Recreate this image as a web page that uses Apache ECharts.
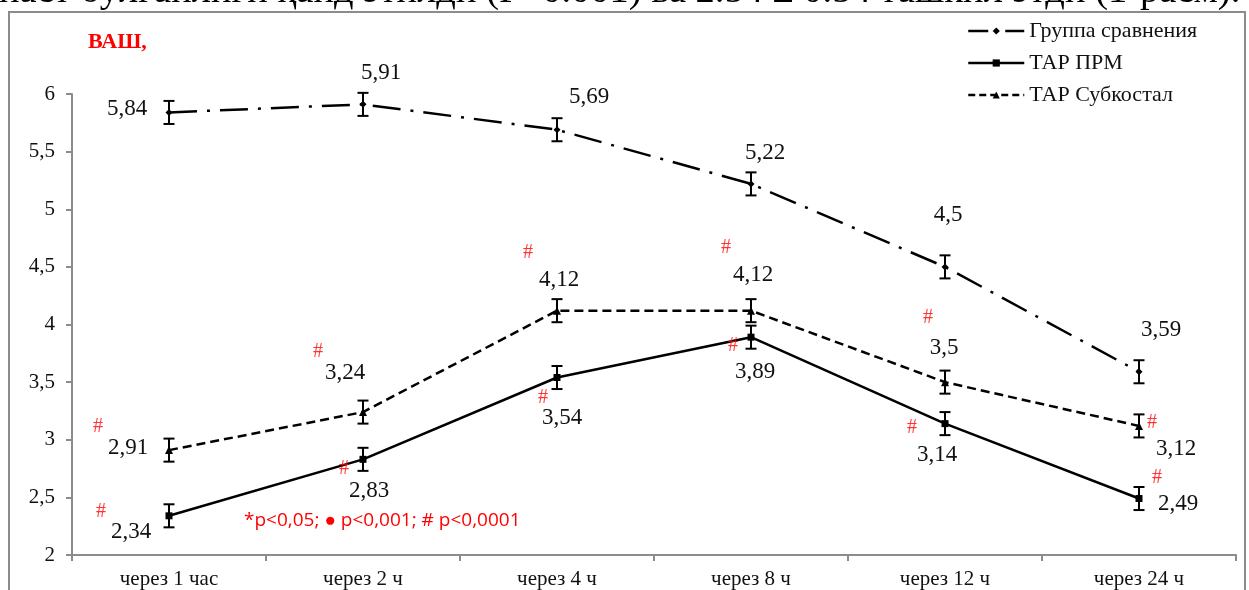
<!DOCTYPE html>
<html><head><meta charset="utf-8">
<script src="https://cdn.jsdelivr.net/npm/echarts@6/dist/echarts.min.js"></script>
<style>html,body{margin:0;padding:0;background:#fff}#c{width:1249px;height:590px}</style>
</head><body><div id="c"></div>
<script>
const categories = ['через 1 час','через 2 ч','через 4 ч','через 8 ч','через 12 ч','через 24 ч'];
const seriesNames = ['Группа сравнения','ТАР ПРМ','ТАР Субкостал'];
const groupVals = [5.84, 5.91, 5.69, 5.22, 4.5, 3.59];
const prmVals   = [2.34, 2.83, 3.54, 3.89, 3.14, 2.49];
const subVals   = [2.91, 3.24, 4.12, 4.12, 3.5, 3.12];
const groupErr = [0.1, 0.1, 0.1, 0.1, 0.1, 0.1];
const prmErr   = [0.1, 0.1, 0.1, 0.1, 0.1, 0.1];
const subErr   = [0.1, 0.1, 0.1, 0.1, 0.1, 0.1];
const prmHash = [true, true, true, true, true, true];
const subHash = [true, true, true, true, true, true];
const yTicks = [2, 2.5, 3, 3.5, 4, 4.5, 5, 5.5, 6];
const topText = 'паст бўлганлиги қайд этилди (Р<0.001) ва 2.54 ± 0.54 ташкил этди (1-расм).';
const noteText = '*p<0,05; ● p<0,001; # p<0,0001';

// label placement (pixel offsets from each point)
const groupLabelOff = [[-42,-3],[18,-31],[32,-33],[14,-31],[3,-52],[22,-42]];
const subLabelOff   = [[-41,-2],[-18,-39],[2,-31],[2,-36],[-1,-34],[37,23]];
const prmLabelOff   = [[-38,16],[6,32],[5,40],[4,35],[-8,31],[39,5]];
const subHashOff    = [[-71,-23],[-45,-60],[-29,-58],[-25,-63],[-17,-64],[13,-3]];
const prmHashOff    = [[-68,-4],[-19,9],[-14,20],[-18,9],[-33,4],[18,-21]];

const fmt = v => String(v).replace('.', ',');
const serif = 'Liberation Serif';

const dashDot = [28,10,3,10];
const dashed = [9,5];

function labeled(vals, offs){
  return vals.map((v,i)=>({value:v, label:{offset:offs[i]}}));
}
function lineSeries(name, vals, offs, type, symbol, size){
  return {
    name, type:'line', data: labeled(vals, offs), symbol, symbolSize:size,
    showSymbol:true, z:3,
    itemStyle:{color:'#000'},
    lineStyle:{color:'#000', width:2.5, type},
    label:{show:true, position:'inside', formatter:p=>fmt(p.value), color:'#111', fontFamily:serif, fontSize:23},
    emphasis:{disabled:true}, animation:false
  };
}
function hashSeries(vals, flags, offs){
  return {
    type:'scatter', symbolSize:1, itemStyle:{color:'rgba(0,0,0,0)'}, z:5,
    data: vals.map((v,i)=>flags[i]?{value:[i,v], label:{offset:offs[i]}}:null).filter(d=>d),
    label:{show:true, position:'inside', formatter:'#', color:'#ff0000', fontFamily:serif, fontSize:20},
    emphasis:{disabled:true}, silent:true, animation:false
  };
}
function errSeries(vals, errs){
  return {
    type:'custom', z:4, silent:true, animation:false,
    data: vals.map((v,i)=>[i, v, errs[i]]),
    renderItem:(params, api)=>{
      const i = api.value(0), v = api.value(1), e = api.value(2);
      const top = api.coord([i, v+e]), bot = api.coord([i, v-e]);
      const w = 5.5;
      const st = {stroke:'#000', lineWidth:2};
      return {type:'group', children:[
        {type:'line', shape:{x1:top[0], y1:top[1], x2:bot[0], y2:bot[1]}, style:st},
        {type:'line', shape:{x1:top[0]-w, y1:top[1], x2:top[0]+w, y2:top[1]}, style:st},
        {type:'line', shape:{x1:bot[0]-w, y1:bot[1], x2:bot[0]+w, y2:bot[1]}, style:st}
      ]};
    }
  };
}

const chart = echarts.init(document.getElementById('c'), null, {renderer:'canvas'});
chart.setOption({
  backgroundColor:'#fff',
  animation:false,
  grid:{left:72, right:13, top:94, bottom:35, containLabel:false, outerBoundsMode:'none'},
  legend:{
    data: [
      {name:seriesNames[0], lineStyle:{width:2.5, type:[20,7,3,7]}},
      {name:seriesNames[1], lineStyle:{width:2.5, type:'solid'}},
      {name:seriesNames[2], lineStyle:{width:2.5, type:[7,4]}}
    ],
    orient:'vertical', left:962, top:15, itemGap:10, itemWidth:56, itemHeight:9,
    textStyle:{fontFamily:serif, fontSize:22, color:'#111'}, selectedMode:false
  },
  xAxis:{
    type:'category', data:categories, boundaryGap:true,
    axisLine:{lineStyle:{color:'#8c8c8c', width:2}},
    axisTick:{show:true, length:6, lineStyle:{color:'#8c8c8c', width:2}},
    axisLabel:{fontFamily:serif, fontSize:21, color:'#111', margin:14},
    splitLine:{show:false}
  },
  yAxis:{
    type:'value', min:yTicks[0], max:yTicks[yTicks.length-1], interval:0.5,
    axisLine:{show:true, lineStyle:{color:'#8c8c8c', width:2}},
    axisTick:{show:true, length:6, lineStyle:{color:'#8c8c8c', width:2}},
    axisLabel:{fontFamily:serif, fontSize:21, color:'#111', margin:17, formatter:v=>fmt(v)},
    splitLine:{show:false}
  },
  graphic:[
    {type:'rect', shape:{x:9, y:12, width:1236, height:600}, style:{fill:null, stroke:'#8c8c8c', lineWidth:2}, z:0, silent:true},
    {type:'text', x:-1, y:11, style:{text:topText, font:'38.5px "Liberation Serif"', fill:'#000', verticalAlign:'bottom'}, silent:true},
    {type:'text', x:88, y:42, style:{text:'ВАШ,', font:'bold 22px "Liberation Serif"', fill:'#ff0000', verticalAlign:'middle'}, silent:true},
    {type:'text', x:244, y:521, style:{text:noteText, font:'19px "Open Sans"', fill:'#ff0000', verticalAlign:'middle'}, silent:true}
  ],
  series:[
    lineSeries(seriesNames[0], groupVals, groupLabelOff, dashDot, 'diamond', 7),
    lineSeries(seriesNames[1], prmVals, prmLabelOff, 'solid', 'rect', 7),
    lineSeries(seriesNames[2], subVals, subLabelOff, dashed, 'triangle', 8),
    errSeries(groupVals, groupErr),
    errSeries(prmVals, prmErr),
    errSeries(subVals, subErr),
    hashSeries(prmVals, prmHash, prmHashOff),
    hashSeries(subVals, subHash, subHashOff)
  ]
});
</script></body></html>
